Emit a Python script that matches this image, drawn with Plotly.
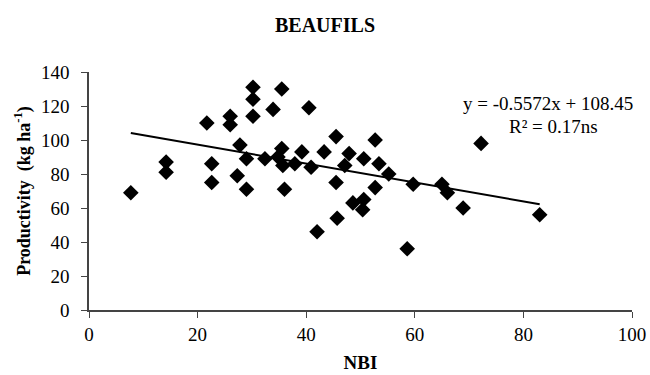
import plotly.graph_objects as go

# Data
nbi = [7.7, 14.2, 14.2, 21.7, 22.6, 22.6, 26.0, 26.0, 27.8, 27.3, 29.0, 29.0,
       30.2, 30.2, 30.2, 32.4, 33.9, 34.8, 35.5, 35.5, 35.7, 36.0, 37.9, 39.2,
       40.5, 40.9, 42.0, 43.3, 45.5, 45.5, 45.7, 47.1, 47.9, 48.6, 50.6, 50.4,
       50.6, 52.7, 52.7, 53.4, 55.2, 58.6, 59.7, 65.0, 66.0, 68.9, 72.2, 83.0]
productivity = [69, 87, 81, 110, 86, 75, 114, 109, 97, 79, 89, 71,
                131, 124, 114, 89, 118, 90, 130, 95, 85, 71, 86, 93,
                119, 84, 46, 93, 102, 75, 54, 85, 92, 63, 65, 59,
                89, 100, 72, 86, 80, 36, 74, 74, 69, 60, 98, 56]

slope = -0.5572
intercept = 108.45
eq_text = "y = -0.5572x + 108.45"
r2_text = "R² = 0.17ns"

x_ticks = [0, 20, 40, 60, 80, 100]
y_ticks = [0, 20, 40, 60, 80, 100, 120, 140]

font = "Liberation Serif, Times New Roman, serif"

x_line = [min(nbi), max(nbi)]
y_line = [intercept + slope * v for v in x_line]

fig = go.Figure()
fig.add_trace(go.Scatter(x=x_line, y=y_line, mode="lines",
                         line=dict(color="black", width=2), hoverinfo="skip"))
fig.add_trace(go.Scatter(x=nbi, y=productivity, mode="markers",
                         marker=dict(symbol="diamond", size=12, color="black")))

fig.update_layout(
    width=650, height=375,
    margin=dict(l=89, r=18, t=72, b=65),
    paper_bgcolor="white", plot_bgcolor="white",
    showlegend=False,
    font=dict(family=font, size=19, color="black"),
    title=dict(text="<b>BEAUFILS</b>", x=0.5, xanchor="center", y=1 - 25 / 375,
               yanchor="middle", font=dict(family=font, size=20, color="black")),
    xaxis=dict(range=[0, 100], tickvals=x_ticks, showgrid=False, zeroline=False,
               showline=True, linecolor="#444", linewidth=1.5,
               ticks="outside", ticklen=6, tickcolor="#444", automargin=False,
               tickfont=dict(family=font, size=19),
               title=dict(text="<b>NBI</b>", font=dict(family=font, size=19),
                          standoff=12)),
    yaxis=dict(range=[0, 140], tickvals=y_ticks, showgrid=False, zeroline=False,
               showline=True, linecolor="#444", linewidth=1.5,
               ticks="outside", ticklen=6, tickcolor="#444", automargin=False,
               ticklabelstandoff=8,
               tickfont=dict(family=font, size=19),
               title=dict(text="<b>Productivity  (kg ha<sup>-1</sup>)</b>",
                          font=dict(family=font, size=18), standoff=6)),
)

fig.add_annotation(x=(548 - 89) / 543, y=(310 - 103) / 238, xref="paper",
                   yref="paper", xanchor="center", yanchor="middle",
                   text=eq_text, showarrow=False,
                   font=dict(family=font, size=19))
fig.add_annotation(x=(553 - 89) / 543, y=(310 - 126) / 238, xref="paper",
                   yref="paper", xanchor="center", yanchor="middle",
                   text=r2_text, showarrow=False,
                   font=dict(family=font, size=19))

fig.write_html("out.html", config={"displayModeBar": False},
               post_script="document.body.style.margin='0';")
